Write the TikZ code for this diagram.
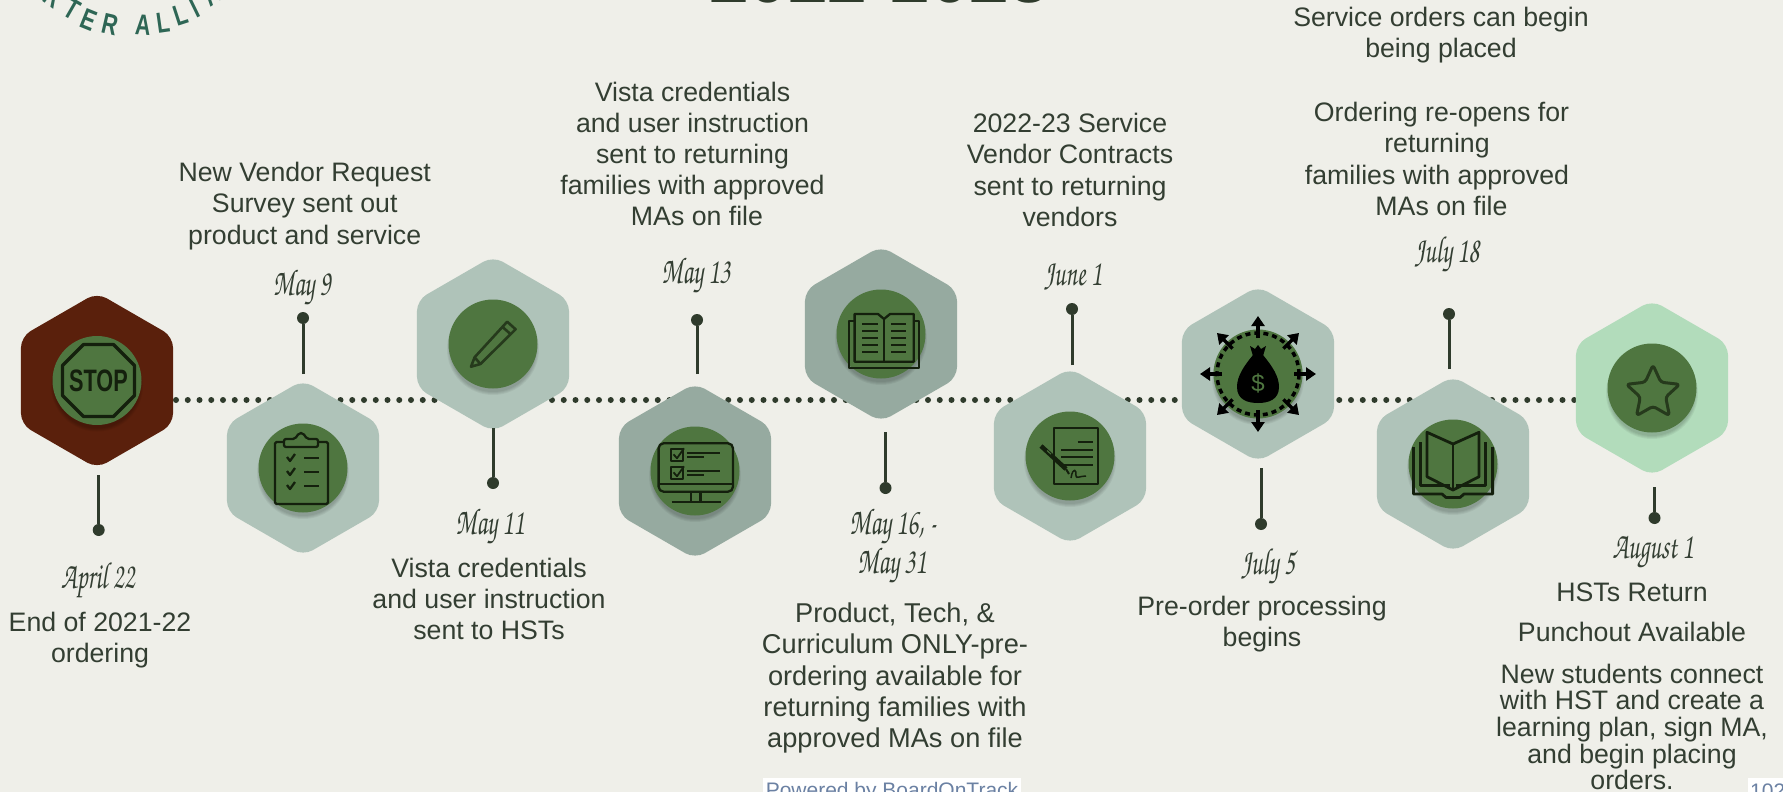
\documentclass[tikz,border=0pt]{standalone}
\usepackage[T1]{fontenc}
\usepackage{fontspec}
\usepackage{graphicx}
\setmainfont{Liberation Sans}
\usetikzlibrary{shapes.geometric,arrows.meta}
\definecolor{bgc}{HTML}{EFEFE9}
\definecolor{txtc}{HTML}{333E32}
\definecolor{dotc}{HTML}{2F3B2C}
\definecolor{stopc}{HTML}{5A200C}
\definecolor{hexlight}{HTML}{AFC3B9}
\definecolor{hexdark}{HTML}{96AAA0}
\definecolor{hexmint}{HTML}{B2DCBB}
\definecolor{discc}{HTML}{4F7640}
\definecolor{iconc}{HTML}{14200D}
\definecolor{logoc}{HTML}{2E6655}
\definecolor{linkc}{HTML}{6B81A3}
\newcommand\datef{\usefont{T1}{pzc}{m}{it}\fontsize{29}{37}\selectfont}
\newcommand\dtxt[1]{\scalebox{.86}[1.3]{#1}}
\newcommand\lgl[1]{\scalebox{.74}[1]{#1}}
\tikzset{
  hexa/.style={regular polygon,regular polygon sides=6,shape border rotate=30,minimum size=175.6pt,inner sep=0pt,outer sep=0pt,rounded corners=11pt,fill=#1},
  disc/.style={circle,fill=discc,minimum size=89pt,inner sep=0pt},
  body/.style={font=\fontsize{26.7}{31.2}\selectfont,align=center,text=txtc,inner sep=0pt},
  tight/.style={font=\fontsize{26.7}{26.7}\selectfont,align=center,text=txtc,inner sep=0pt},
  datel/.style={text=txtc,inner sep=0pt,font=\datef},
  stem/.style={draw=dotc,line width=3pt},
  pin/.style={circle,fill=dotc,minimum size=12pt,inner sep=0pt},
  dotline/.style={draw=dotc,line width=6pt,line cap=round,dash pattern=on 0pt off 11.75pt},
  ico/.style={draw=iconc,line width=2.3pt,line join=round},
  softico/.style={draw=iconc!70!discc,line width=2.6pt,line join=round},
  logol/.style={text=logoc,inner sep=0pt,font=\fontsize{29}{29}\selectfont\bfseries},
  whitebox/.style={fill=white,draw=none}
}
\newcommand\shadowat[2]{\foreach \r in {43,44,45,46}{\fill[black,opacity=.05] (#1,#2+5) circle[radius=\r pt];}}
\begin{document}
\begin{tikzpicture}[x=1pt,y=-1pt]
\useasboundingbox (0,0) rectangle (1783,792);
\fill[bgc] (0,0) rectangle (1783,792);

% timeline
\coordinate (tl) at (176,400);
\coordinate (tr) at (1575,400);
\draw[dotline] (tl) -- (tr);

% logo arc letters and title
\node[logol,rotate=-36] (l0) at (54,-3) {\lgl{R}};
\node[logol,rotate=-30] (l1) at (71.7,9) {\lgl{T}};
\node[logol,rotate=-22] (l2) at (89,20) {\lgl{E}};
\node[logol,rotate=-13] (l3) at (110,24.5) {\lgl{R}};
\node[logol,rotate=-4] (l4) at (143,25) {\lgl{A}};
\node[logol,rotate=8] (l5) at (163,22.5) {\lgl{L}};
\node[logol,rotate=18] (l6) at (181,15) {\lgl{L}};
\node[logol,rotate=26] (l7) at (195,8) {\lgl{I}};
\node[logol,rotate=34] (l8) at (211,-5) {\lgl{A}};
\node[anchor=base,text=dotc,inner sep=0pt,font=\fontsize{71}{71}\selectfont\bfseries] (title) at (879,3) {2022-2023};

% hexagons
\node[hexa=stopc] (h1) at (97,380.5) {};
\node[hexa=hexlight] (h2) at (303,468) {};
\node[hexa=hexlight] (h3) at (493,344) {};
\node[hexa=hexdark] (h4) at (695,471) {};
\node[hexa=hexdark] (h5) at (881,334) {};
\node[hexa=hexlight] (h6) at (1070,456) {};
\node[hexa=hexlight] (h7) at (1258,374) {};
\node[hexa=hexlight] (h8) at (1453,464) {};
\node[hexa=hexmint] (h9) at (1652,388) {};

% discs
\shadowat{97}{380.5}\node[disc] (c1) at (97,380.5) {};
\shadowat{303}{468}\node[disc] (c2) at (303,468) {};
\shadowat{493}{344}\node[disc] (c3) at (493,344) {};
\shadowat{695}{471}\node[disc] (c4) at (695,471) {};
\shadowat{881}{334}\node[disc] (c5) at (881,334) {};
\shadowat{1070}{456}\node[disc] (c6) at (1070,456) {};
\shadowat{1258}{374}\node[disc] (c7) at (1258,374) {};
\shadowat{1453}{464}\node[disc] (c8) at (1453,464) {};
\shadowat{1652}{388}\node[disc] (c9) at (1652,388) {};

% stop icon
\begin{scope}[shift={(98.5,380.5)}]
  \draw[ico,line width=3.2pt] (-15,-36)--(15,-36)--(36,-15)--(36,15)--(15,36)--(-15,36)--(-36,15)--(-36,-15)--cycle;
  \node[text=iconc,inner sep=0pt,font=\fontsize{31}{31}\selectfont\bfseries] (stopt) at (0,0) {\scalebox{.7}[1]{STOP}};
\end{scope}

% clipboard
\begin{scope}[shift={(303,468)}]
  \draw[ico,rounded corners=1.5pt] (-28,-26) rectangle (25,36);
  \draw[ico,fill=discc,rounded corners=2pt] (-19,-21)--(-19,-29)--(-8,-29)--(-4,-35)--(0,-35)--(4,-29)--(15,-29)--(15,-21)--cycle;
  \foreach \yy in {-10,4,18}{
    \draw[ico] (-16,\yy-1)--(-13,\yy+3)--(-8,\yy-4);
    \draw[ico] (1,\yy)--(16,\yy);
  }
\end{scope}

% pencil
\begin{scope}[shift={(493,344)}]
  \draw[softico] (-22,22.7)--(-18.4,13.3)--(14.2,-22.3)--(22.6,-14.7)--(-12.6,20)--cycle;
  \draw[softico] (9.2,-17.3)--(18,-9.5);
  \draw[softico] (-18.4,13.3)--(-12.6,20);
\end{scope}

% monitor
\begin{scope}[shift={(695,471)}]
  \draw[ico,rounded corners=5pt] (-36.4,20.7)--(-36.4,-27.7)--(38,-27.7)--(38,20.7)--cycle;
  \draw[ico] (-36.4,13.3)--(38,13.3);
  \draw[ico] (-4.2,20.7)--(-4.2,30.7) (5.4,20.7)--(5.4,30.7) (-23.4,30.7)--(25.6,30.7);
  \foreach \yy in {-21.7,-3.7}{
    \draw[ico,line width=1.8pt] (-24,\yy) rectangle (-12,\yy+11.4);
    \draw[ico,line width=1.8pt] (-21.5,\yy+5)--(-18,\yy+9)--(-11,\yy-1);
    \draw[ico,line width=1.8pt] (-8,\yy+4)--(25,\yy+4) (-8,\yy+8)--(9,\yy+8);
  }
\end{scope}

% book
\begin{scope}[shift={(881,334)}]
  \draw[ico] (-26.4,-13.3)--(-32,-13.3)--(-32,34.3)--(38,34.3)--(38,-13.3)--(32.7,-13.3);
  \draw[ico] (3,27.7)--(-26.4,27.7)--(-26.4,-20)--(-3,-20)--(3,-15)--(9,-20)--(32.7,-20)--(32.7,27.7)--cycle;
  \draw[ico] (3,-15)--(3,27.7);
  \foreach \yy in {-10,-3,4,11,18}{
    \draw[ico] (-18.8,\yy)--(-3.4,\yy) (10,\yy)--(25.3,\yy);
  }
\end{scope}

% document and pen
\begin{scope}[shift={(1070,456)}]
  \draw[ico] (-15.7,-27.7) rectangle (28.3,28.3);
  \draw[ico] (7.7,-14.3)--(22.6,-14.3);
  \foreach \yy in {-6,1.3,9}{\draw[ico] (-8.8,\yy)--(22.6,\yy);}
  \draw[ico,line width=1.5pt] (1,22) .. controls (3,10) and (7,14) .. (6,20) .. controls (6,23) and (10,20) .. (16,20);
  \draw[iconc,line width=4.5pt] (-29,-10)--(-4,13);
  \draw[iconc,line width=2pt] (-4,13)--(-1,18);
  \draw[discc,line width=1pt] (-23,-5.5)--(-19,-1.8);
\end{scope}

% money bag
\begin{scope}[shift={(1258,374)}]
  \draw[black,line width=3.5pt,dash pattern=on 5pt off 4pt] (0,0) circle[radius=41pt];
  \foreach \a in {0,45,...,315}{
    \draw[black,line width=3.5pt,-{Triangle[length=10pt,width=13pt]}] (\a:36pt)--(\a:58pt);
  }
  \fill[black] (-5,-19) .. controls (-14,-8) and (-21,2) .. (-21,13) .. controls (-21,26) and (-10,29) .. (0,29) .. controls (10,29) and (21,26) .. (21,13) .. controls (21,2) and (14,-8) .. (5,-19) -- cycle;
  \fill[black] (-8,-28)--(-3,-25)--(0,-29)--(3,-25)--(8,-28)--(5,-18)--(-5,-18)--cycle;
  \node[text=discc,inner sep=0pt,font=\fontsize{24}{24}\selectfont] (dollar) at (0,9) {\$};
\end{scope}

% open book
\begin{scope}[shift={(1453,464)}]
  \draw[ico,line width=2.8pt] (0,-20)--(-26,-31.7)--(-26,12.7)--(0,26)--(26,12.7)--(26,-31.7)--cycle;
  \draw[ico,line width=2.8pt] (0,-20)--(0,26);
  \draw[ico,line width=2.8pt] (-32.7,-22)--(-32.7,21.7)--(-3,21.7) (32.7,-22)--(32.7,21.7)--(3,21.7);
  \draw[ico,line width=2.8pt] (-39.6,-17)--(-39.6,30)--(-11,30)--(-7,33.5)--(7,33.5)--(11,30)--(39.6,30)--(39.6,-17);
\end{scope}

% star
\node[star,star points=5,star point ratio=2.1,minimum size=56pt,inner sep=0pt,draw=iconc!70!discc,line width=3pt,rounded corners=3pt,line join=round] (st) at (1653,393) {};

% stems and pins
\coordinate (s1) at (98.7,475); \node[pin] (p1) at (98.7,530) {}; \draw[stem] (s1)--(p1);
\coordinate (s2) at (303,374); \node[pin] (p2) at (303,318) {}; \draw[stem] (s2)--(p2);
\coordinate (s3) at (493,428); \node[pin] (p3) at (493,483) {}; \draw[stem] (s3)--(p3);
\coordinate (s4) at (697,374); \node[pin] (p4) at (697,320) {}; \draw[stem] (s4)--(p4);
\coordinate (s5) at (885.5,432); \node[pin] (p5) at (885.5,488) {}; \draw[stem] (s5)--(p5);
\coordinate (s6) at (1072,365); \node[pin] (p6) at (1072,309) {}; \draw[stem] (s6)--(p6);
\coordinate (s7) at (1261,468); \node[pin] (p7) at (1261,524) {}; \draw[stem] (s7)--(p7);
\coordinate (s8) at (1449,369); \node[pin] (p8) at (1449,314) {}; \draw[stem] (s8)--(p8);
\coordinate (s9) at (1654.5,487); \node[pin] (p9) at (1654.5,518) {}; \draw[stem] (s9)--(p9);

% dates
\node[datel] (d1) at (98,581) {\dtxt{April 22}};
\node[datel] (d2) at (302,288) {\dtxt{May 9}};
\node[datel] (d3) at (490,527) {\dtxt{May 11}};
\node[datel] (d4) at (696,276) {\dtxt{May 13}};
\node[datel] (d5) at (893,527) {\dtxt{May 16, -}};
\node[datel] (d5b) at (892,566) {\dtxt{May 31}};
\node[datel] (d6) at (1073,277) {\dtxt{June 1}};
\node[datel] (d7) at (1268,567) {\dtxt{July 5}};
\node[datel] (d8) at (1447,255) {\dtxt{July 18}};
\node[datel] (d9) at (1653,553) {\dtxt{August 1}};

% body text
\node[body] (t1) at (100,640) {End of 2021-22\\ordering};
\node[body] (t2) at (304.7,206) {New Vendor Request\\Survey sent out\\product and service};
\node[body] (t3) at (489,599) {Vista credentials\\and user instruction\\sent to HSTs};
\node[body] (t4) at (692.5,154) {Vista credentials\\and user instruction\\sent to returning\\families with approved\\\hspace*{9pt}MAs on file};
\node[body,font=\fontsize{27.2}{31.2}\selectfont] (t5) at (895,678) {Product, Tech, \&\\Curriculum ONLY-pre-\\ordering available for\\returning families with\\approved MAs on file};
\node[body] (t6) at (1070,170) {2022-23 Service\\Vendor Contracts\\sent to returning\\vendors};
\node[body] (t7) at (1262,624) {Pre-order processing\\begins};
\node[body] (t8) at (1441,35) {Service orders can begin\\being placed};
\node[body] (t9) at (1437,159) {\hspace*{9pt}Ordering re-opens for\\returning\\families with approved\\\hspace*{9pt}MAs on file};
\node[body] (t10) at (1632,592) {HSTs Return};
\node[body] (t11) at (1632,632) {Punchout Available};
\node[tight] (t12) at (1632,727) {New students connect\\with HST and create a\\learning plan, sign MA,\\and begin placing\\orders.};

% footer
\fill[whitebox] (763,778) rectangle (1021,792);
\node[anchor=base,text=linkc,inner sep=0pt,font=\fontsize{21}{21}\selectfont] (pw) at (892,797) {Powered by BoardOnTrack};
\fill[whitebox] (1748,778) rectangle (1783,792);
\node[anchor=base west,text=linkc,inner sep=0pt,font=\fontsize{21}{21}\selectfont] (pg) at (1750,798) {102};
\end{tikzpicture}
\end{document}
